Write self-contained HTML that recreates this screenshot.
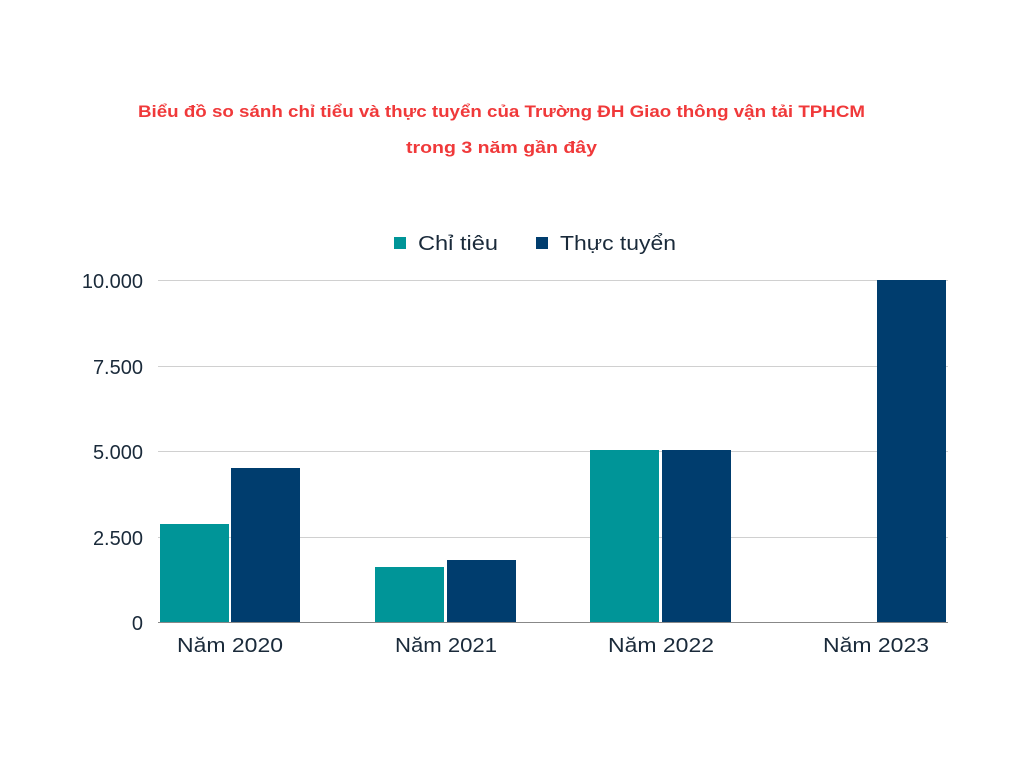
<!DOCTYPE html>
<html><head><meta charset="utf-8"><style>
body{margin:0;background:#fff;width:1024px;height:768px;overflow:hidden;font-family:"Liberation Sans",sans-serif}
</style></head><body>
<svg width="1024" height="768" xmlns="http://www.w3.org/2000/svg" font-family="Liberation Sans, sans-serif">
<text x="138" y="117" font-size="17" font-weight="bold" fill="#f0393a" textLength="727" lengthAdjust="spacingAndGlyphs">Biểu đồ so sánh chỉ tiểu và thực tuyển của Trường ĐH Giao thông vận tải TPHCM</text>
<text x="406" y="153" font-size="17" font-weight="bold" fill="#f0393a" textLength="191" lengthAdjust="spacingAndGlyphs">trong 3 năm gần đây</text>
<rect x="394" y="237" width="12" height="12" fill="#009598"/>
<text x="418" y="250" font-size="20" fill="#1a2a3a" textLength="80" lengthAdjust="spacingAndGlyphs">Chỉ tiêu</text>
<rect x="536" y="237" width="12" height="12" fill="#003d6e"/>
<text x="560" y="250" font-size="20" fill="#1a2a3a" textLength="116" lengthAdjust="spacingAndGlyphs">Thực tuyển</text>
<g stroke="#d0d0d0" stroke-width="1">
<line x1="158" y1="280.5" x2="948" y2="280.5"/>
<line x1="158" y1="366.5" x2="948" y2="366.5"/>
<line x1="158" y1="451.5" x2="948" y2="451.5"/>
<line x1="158" y1="537.5" x2="948" y2="537.5"/>
</g>
<g font-size="20" fill="#1a2a3a" text-anchor="end">
<text x="143" y="288">10.000</text>
<text x="143" y="374">7.500</text>
<text x="143" y="459">5.000</text>
<text x="143" y="545">2.500</text>
<text x="143" y="630">0</text>
</g>
<g fill="#009598">
<rect x="160" y="524" width="69" height="99"/>
<rect x="375" y="567" width="69" height="56"/>
<rect x="590" y="450" width="69" height="173"/>
</g>
<g fill="#003d6e">
<rect x="231" y="468" width="69" height="155"/>
<rect x="447" y="560" width="69" height="63"/>
<rect x="662" y="450" width="69" height="173"/>
<rect x="877" y="280" width="69" height="343"/>
</g>
<line x1="158" y1="622.5" x2="948" y2="622.5" stroke="#888" stroke-width="1"/>
<g font-size="20" fill="#1a2a3a">
<text x="177" y="652" textLength="106" lengthAdjust="spacingAndGlyphs">Năm 2020</text>
<text x="395" y="652" textLength="102" lengthAdjust="spacingAndGlyphs">Năm 2021</text>
<text x="608" y="652" textLength="106" lengthAdjust="spacingAndGlyphs">Năm 2022</text>
<text x="823" y="652" textLength="106" lengthAdjust="spacingAndGlyphs">Năm 2023</text>
</g>
</svg>
</body></html>
